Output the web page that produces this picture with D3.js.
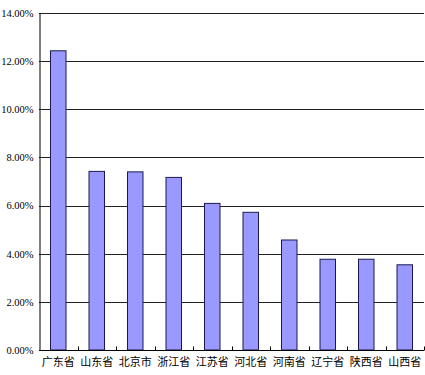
<!DOCTYPE html>
<html><head><meta charset="utf-8">
<script src="https://cdn.jsdelivr.net/npm/d3@7/dist/d3.min.js"></script>
<style>body{margin:0;background:#fff}svg{display:block}</style>
</head><body>
<script>
const categories = ["广东省","山东省","北京市","浙江省","江苏省","河北省","河南省","辽宁省","陕西省","山西省"];
const values = [12.43, 7.42, 7.40, 7.17, 6.09, 5.72, 4.57, 3.77, 3.77, 3.54];
const yTicks = [0, 2, 4, 6, 8, 10, 12, 14];

const W = 425, H = 375;
const m = {left: 39, right: 1, top: 13, bottom: 25};
const svg = d3.select("body").append("svg").attr("width", W).attr("height", H);

const x = d3.scaleBand().domain(categories).range([m.left, W - m.right]).paddingInner(0).paddingOuter(0);
const y = d3.scaleLinear().domain([0, 14]).range([H - m.bottom, m.top]);

// gridlines
svg.append("g").selectAll("line").data(yTicks.filter(d => d > 0)).join("line")
  .attr("x1", m.left).attr("x2", W - m.right)
  .attr("y1", d => Math.round(y(d)) + 0.5).attr("y2", d => Math.round(y(d)) + 0.5)
  .attr("stroke", "#222").attr("stroke-width", 1);

// bars
const bw = 15.5;
svg.append("g").selectAll("rect").data(categories).join("rect")
  .attr("x", (d) => x(d) + x.bandwidth() / 2 - bw / 2)
  .attr("y", (d, i) => y(values[i]))
  .attr("width", bw)
  .attr("height", (d, i) => y(0) - y(values[i]))
  .attr("fill", "#9999FF").attr("stroke", "#1a1a50").attr("stroke-width", 1);

// y axis
const yAxis = d3.axisLeft(y).tickValues(yTicks).tickSize(0).tickPadding(6)
  .tickFormat(d => d.toFixed(2) + "%");
const gy = svg.append("g").attr("transform", `translate(${m.left + 0.5},0)`).call(yAxis);
gy.select(".domain").attr("stroke", "#000");
gy.selectAll("text").attr("font-family", "'Liberation Serif','DejaVu Serif',serif")
  .attr("font-size", 10.5).attr("fill", "#000");

// x axis
const xAxis = d3.axisBottom(x).tickSize(0).tickPadding(8);
const gx = svg.append("g").attr("transform", `translate(0,${Math.round(y(0)) + 0.5})`).call(xAxis);
gx.select(".domain").attr("stroke", "#000").attr("d", `M${m.left},0H${W - m.right}`);
gx.selectAll("text").attr("font-family", "'Noto Sans CJK SC',sans-serif")
  .attr("font-size", 11).attr("fill", "#000");
// category boundary ticks
const bounds = categories.map(c => x(c)).concat([W - m.right]).slice(1);
gx.append("g").selectAll("line").data(bounds).join("line")
  .attr("x1", d => Math.round(d) + 0.5).attr("x2", d => Math.round(d) + 0.5)
  .attr("y1", -4).attr("y2", 0).attr("stroke", "#000");
</script>
</body></html>
